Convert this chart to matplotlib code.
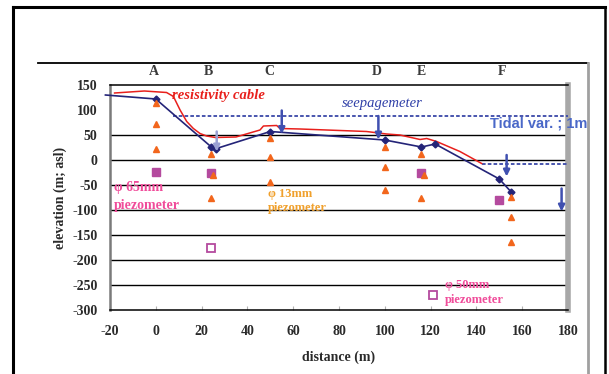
import matplotlib
matplotlib.use("Agg")
import matplotlib.pyplot as plt
import numpy as np

# --- data ---
# ground surface profile (navy line with markers)
ground_x = [-22, 0, 24, 26.5, 50, 100, 116, 122, 150, 155]
ground_y = [130, 122, 27, 23, 57, 40, 26, 32, -38, -63]

# resistivity cable (red line)
cable_x = [-18, -5, 4.7, 7.7, 10.6, 13.5, 16.4, 19.3, 22.2, 26, 35, 45.5, 47, 52.8,
           54.2, 63, 92, 100.8, 106.6, 115.4, 118.3, 122.6, 132.8, 142.3]
cable_y = [134, 138, 135, 127, 100, 77, 63, 53, 48, 45, 46, 60, 68, 69,
           63, 62, 57, 52, 50, 41, 43, 37, 17, -7]

# tidal levels (dotted)
tide_hi_x = [7.5, 180]
tide_hi_y = [88, 88]
tide_lo_x = [142.3, 180]
tide_lo_y = [-8, -8]

# seepagemeters (arrows): x, top, bottom
seep_x = [26.6, 55, 97.2, 153.2, 177.2]
seep_top = [57, 99, 88, 10, -57]
seep_bot = [17, 52, 41, -33, -103]

# 13mm piezometers (triangles)
p13_x = [0, 0, 0, 24, 24, 25, 50, 50, 50, 100, 100, 100, 116, 116, 117, 155, 155, 155]
p13_y = [115, 73, 23, 13, -76, -30, 44, 6, -44, 26, -14, -60, 12, -76, -30, -73, -113, -164]

# 65mm piezometers (filled squares)
p65_x = [0, 24, 116, 150]
p65_y = [-24, -26, -26, -79]

# 50mm piezometers (open squares)
p50_x = [24, 121]
p50_y = [-176, -270]

stations = ["A", "B", "C", "D", "E", "F"]
station_x = [-1, 23, 49.5, 96.5, 116, 151]

xticks = [-20, 0, 20, 40, 60, 80, 100, 120, 140, 160, 180]
yticks = [150, 100, 50, 0, -50, -100, -150, -200, -250, -300]
grid_y = [50, 0, -50, -100, -150, -200, -250]

serif = "Liberation Serif"
sans = "Liberation Sans"

fig = plt.figure(figsize=(6.09, 3.74), dpi=100)

# frame lines drawn in pixel coordinates
bg = fig.add_axes([0, 0, 1, 1])
bg.set_xlim(0, 609)
bg.set_ylim(374, 0)
bg.axis("off")
bg.plot([12.5, 12.5], [7, 374], color="k", lw=2.2)
bg.plot([12.5, 605], [7, 7], color="k", lw=2.2)
bg.plot([605, 605], [7, 374], color="k", lw=1.8)
bg.plot([38, 588], [63, 63], color="k", lw=1.3)
bg.plot([588, 588], [63, 374], color="#a0a0a0", lw=2)

ax = fig.add_axes([110 / 609, 1 - 310 / 374, 458 / 609, 225 / 374])
ax.set_xlim(-20, 180)
ax.set_ylim(-300, 150)

for g in grid_y:
    ax.axhline(g, color="k", lw=1, zorder=1)

ax.spines["left"].set_color("#7a7a7a")
ax.spines["left"].set_linewidth(1.8)
ax.spines["right"].set_color("#a8a8a8")
ax.spines["right"].set_linewidth(4)
ax.spines["top"].set_linewidth(1.1)
ax.spines["bottom"].set_linewidth(1.1)

ax.set_xticks(xticks)
ax.set_xticklabels([str(t) for t in xticks])
ax.set_yticks(yticks)
ax.set_yticklabels([str(t) for t in yticks])
ax.tick_params(axis="x", direction="in", length=3, color="#b0b0b0", pad=11)
ax.tick_params(axis="y", length=0, pad=9)
for lab in ax.get_xticklabels() + ax.get_yticklabels():
    lab.set_fontfamily(serif)
    lab.set_fontsize(10)
    lab.set_fontweight("bold")
    lab.set_color("#2a2a2a")

# tidal dotted lines
ax.plot(tide_hi_x, tide_hi_y, color="#3a48a8", lw=1.3, ls=(0, (2, 1.2)), zorder=3)
ax.plot(tide_lo_x, tide_lo_y, color="#3a48a8", lw=1.3, ls=(0, (2, 1.2)), zorder=3)

# resistivity cable
ax.plot(cable_x, cable_y, color="#e8201c", lw=1.1, zorder=4)

# ground profile
ax.plot(ground_x, ground_y, color="#242478", lw=1.2, zorder=5, clip_on=False)
ax.plot(ground_x[1:], ground_y[1:], ls="none", marker="D", ms=3.5, color="#242478", zorder=6)

# seepagemeter arrows
for i, (sx, st, sb) in enumerate(zip(seep_x, seep_top, seep_bot)):
    c = "#9aa0d4" if i == 0 else "#4050b0"
    ax.annotate("", xy=(sx, sb), xytext=(sx, st),
                arrowprops=dict(arrowstyle="-|>", color=c, lw=1.8, mutation_scale=9,
                                shrinkA=0, shrinkB=0), zorder=7)

# piezometers
ax.plot(p65_x, p65_y, ls="none", marker="s", ms=6, color="#b44a9e", zorder=6)
ax.plot(p13_x, p13_y, ls="none", marker="^", ms=5, color="#f2661c", zorder=7)
ax.plot(p50_x, p50_y, ls="none", marker="s", ms=5.5, mfc="white", mec="#b44a9e", mew=1.3, zorder=6)

# station letters
for s, sx in zip(stations, station_x):
    ax.text(sx, 1.058, s, transform=ax.get_xaxis_transform(), ha="center", va="center",
            fontfamily=serif, fontsize=10, fontweight="bold", color="#3a3a3a")

# annotations
ax.text(7.1, 130, "resistivity cable", color="#e8201c", fontfamily=serif, fontsize=10.5,
        fontstyle="italic", fontweight="bold", va="center", ha="left")
ax.text(81.3, 112, "seepagemeter", color="#3040a8", fontfamily=serif, fontsize=10.5,
        fontstyle="italic", va="center", ha="left")
ax.text(146, 74, "Tidal var. ; 1m", color="#4a68c8", fontfamily=sans, fontsize=10.5,
        fontweight="bold", va="center", ha="left")

pink = "#f04c9a"
orange = "#f0a02c"
ax.text(-18.3, -55, "\u03c6 65mm", color=pink, fontfamily=serif, fontsize=10, fontweight="bold", va="center")
ax.text(-18.3, -90, "piezometer", color=pink, fontfamily=serif, fontsize=10, fontweight="bold", va="center")
ax.text(49, -67, "\u03c6 13mm", color=orange, fontfamily=serif, fontsize=9, fontweight="bold", va="center")
ax.text(49, -96, "piezometer", color=orange, fontfamily=serif, fontsize=9, fontweight="bold", va="center")
ax.text(126.3, -250, "\u03c6 50mm", color=pink, fontfamily=serif, fontsize=9, fontweight="bold", va="center")
ax.text(126.3, -279, "piezometer", color=pink, fontfamily=serif, fontsize=9, fontweight="bold", va="center")

# axis labels
ax.text(-0.109, 0.5, "elevation (m; asl)", transform=ax.transAxes, rotation=90,
        ha="center", va="center", fontfamily=serif, fontsize=10, fontweight="bold", color="#2a2a2a")
ax.text(0.5, -0.209, "distance (m)", transform=ax.transAxes, ha="center", va="center",
        fontfamily=serif, fontsize=10, fontweight="bold", color="#2a2a2a")

fig.savefig("out.png", dpi=100)
